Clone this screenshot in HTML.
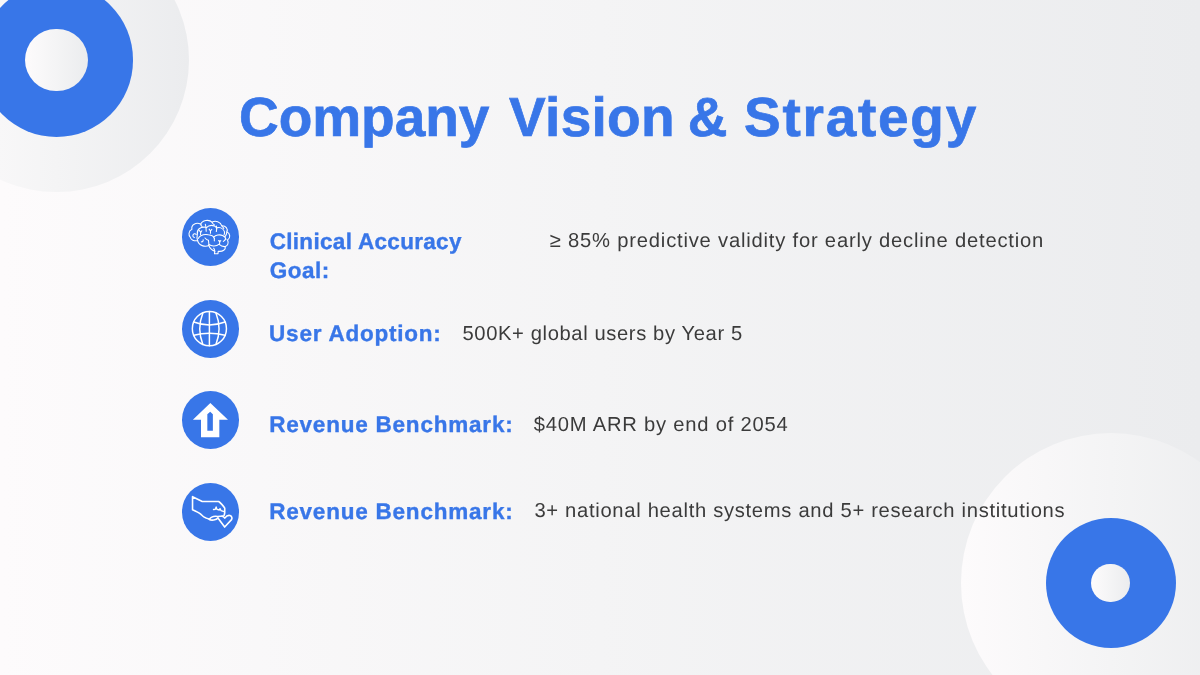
<!DOCTYPE html>
<html lang="en">
<head>
<meta charset="utf-8">
<title>Company Vision &amp; Strategy</title>
<style>
*{margin:0;padding:0;box-sizing:border-box}
html,body{width:1200px;height:675px;overflow:hidden}
body{position:relative;font-family:"Liberation Sans",sans-serif;text-rendering:geometricPrecision;background:linear-gradient(90deg,#fdfbfc 0%,#f4f4f5 50%,#ebecee 100%)}
.pale,.hole{position:absolute;border-radius:50%;background:linear-gradient(90deg,#fdfbfc 0%,#f4f4f5 50%,#ebecee 100%)}
.ring{position:absolute;border-radius:50%;background:#3876e8}
.p1{left:-75.6px;top:-72.2px;width:264.4px;height:264.4px}
.r1{left:-20.15px;top:-16.65px;width:153.5px;height:153.5px}
.h1{left:25.3px;top:28.8px;width:62.6px;height:62.6px}
.p2{left:960.7px;top:432.8px;width:300px;height:300px}
.r2{left:1045.5px;top:517.8px;width:130px;height:130px}
.h2{left:1091.4px;top:563.7px;width:38.2px;height:38.2px}
h1{font-size:55px;font-weight:700;color:#3876e8;-webkit-text-stroke:0.7px #3876e8}
h1 span{position:absolute;white-space:nowrap}
ul{list-style:none}
.ic{position:absolute;left:181.6px;width:57.6px;height:58px;border-radius:50%;background:#3876e8}
.ic svg{position:absolute;overflow:visible}
.lb{position:absolute;font-size:22.5px;font-weight:700;color:#3876e8;white-space:nowrap;-webkit-text-stroke:0.35px #3876e8}
.ds{position:absolute;font-size:20.2px;color:#3b3b3b;white-space:nowrap}
</style>
</head>
<body>
<div class="pale p1"></div>
<div class="ring r1"></div>
<div class="hole h1"></div>
<div class="pale p2"></div>
<div class="ring r2"></div>
<div class="hole h2"></div>

<h1><span style="left:239.00px;top:86px;line-height:62px;letter-spacing:-0.033px">Company</span> <span style="left:509.10px;top:86px;line-height:62px;letter-spacing:0.280px">Vision</span> <span style="left:687.70px;top:86px;line-height:62px;letter-spacing:0.000px">&amp;</span> <span style="left:744.00px;top:86px;line-height:62px;letter-spacing:1.743px">Strategy</span></h1>

<ul>
<li>
<span class="ic" style="top:208.1px">
<svg style="left:3.4px;top:6.9px" width="50" height="45" viewBox="0 0 750 675" fill="none" stroke="#fff" stroke-width="16" stroke-linecap="round" stroke-linejoin="round" aria-label="brain icon">
<path d="M104 212 C88 150 165 100 238 138 C255 80 360 60 405 108 C455 78 535 100 552 162 C612 158 648 210 628 252 C682 280 685 345 638 375 C660 420 640 462 604 474 C614 520 570 552 498 545 L495 580 L442 580 L447 545 C400 525 372 500 358 458 C300 482 205 462 190 385 C135 395 88 372 80 335 C50 312 50 234 104 212 Z"/>
<path d="M190 385 C175 350 178 320 185 290 C175 220 225 172 312 184"/>
<path d="M238 138 C236 155 244 166 258 174"/>
<path d="M305 140 C313 160 320 190 318 245"/>
<path d="M316 192 C350 160 405 150 442 166 C462 174 473 188 476 208"/>
<path d="M405 108 C410 126 426 142 446 152"/>
<path d="M472 166 C476 190 476 222 470 248"/>
<path d="M476 192 C522 180 572 200 590 245 C596 262 594 282 586 298"/>
<path d="M552 162 C566 174 576 186 582 202"/>
<path d="M362 212 L382 240 L402 216"/>
<path d="M382 240 L382 272"/>
<path d="M212 230 L236 258 L232 296"/><path d="M236 258 L252 236"/>
<path d="M168 292 C152 272 122 280 118 306 C116 322 126 334 140 338"/>
<path d="M198 352 C228 305 290 286 350 296 C400 302 432 322 440 352"/>
<path d="M440 352 L440 388"/>
<path d="M430 332 C460 300 520 290 562 306 C592 318 612 342 614 368"/>
<path d="M628 252 C626 282 616 306 600 326"/>
<path d="M245 402 C264 406 276 394 272 370"/>
<path d="M300 345 C320 368 340 378 352 380 C354 410 360 440 358 458"/>
<path d="M358 442 C400 478 472 472 512 436 C522 424 524 405 520 386"/>
<path d="M503 384 L520 400 L537 384"/>
<path d="M512 442 C542 470 580 476 604 474"/>
<path d="M575 396 C592 386 602 376 607 360"/>
<path d="M447 545 C445 525 440 510 430 498"/>
</svg>
</span>
<strong class="lb" style="left:269.70px;top:227px;line-height:29px;letter-spacing:0.312px">Clinical Accuracy<br><span style="letter-spacing:.5px">Goal:</span></strong>
<span class="ds" style="left:549.80px;top:230px;line-height:22px;letter-spacing:0.796px">≥ 85% predictive validity for early decline detection</span>
</li>
<li>
<span class="ic" style="top:299.6px">
<svg style="left:3.4px;top:6.4px" width="50" height="45" viewBox="0 0 750 675" fill="none" stroke="#fff" stroke-width="22" stroke-linecap="round" aria-label="globe icon">
<circle cx="366" cy="340" r="256"/>
<path d="M366 84 V596"/>
<path d="M268 104 Q175 340 268 576"/>
<path d="M464 104 Q557 340 464 576"/>
<path d="M132 240 Q366 330 600 240"/>
<path d="M132 440 Q366 380 600 440"/>
</svg>
</span>
<strong class="lb" style="left:269.10px;top:321px;line-height:25px;letter-spacing:0.769px">User Adoption:</strong>
<span class="ds" style="left:462.50px;top:323px;line-height:22px;letter-spacing:0.611px">500K+ global users by Year 5</span>
</li>
<li>
<span class="ic" style="top:391.1px">
<svg style="left:3.4px;top:6.9px" width="50" height="45" viewBox="0 0 750 675" aria-label="arrow up icon">
<path fill="#fff" fill-rule="evenodd" d="M380 75 L645 328 H515 V590 H240 V328 H118 Z M378 208 L335 245 V492 H418 V245 Z"/>
</svg>
</span>
<strong class="lb" style="left:269.20px;top:412px;line-height:25px;letter-spacing:0.788px">Revenue Benchmark:</strong>
<span class="ds" style="left:533.80px;top:414px;line-height:22px;letter-spacing:0.782px">$40M ARR by end of 2054</span>
</li>
<li>
<span class="ic" style="top:482.8px">
<svg style="left:3.4px;top:7.2px" width="50" height="45" viewBox="0 0 750 675" fill="none" stroke="#fff" stroke-width="24" stroke-linecap="round" stroke-linejoin="round" aria-label="hand giving heart icon">
<path d="M371 440 C335 430 305 420 283 404 C262 388 250 374 235 362 C215 346 195 332 113 296 V100 L259 172 H505 C525 182 580 245 596 272 V332 C596 350 592 365 587 380"/>
<path d="M427 292 L455 290 L467 254 L480 292 L515 300 L525 280 L540 308 L587 326" stroke-width="20"/>
<path d="M366 442 C385 408 440 390 490 397 L575 390"/>
<path d="M366 442 C390 460 470 455 494 420"/>
<path d="M494 420 L595 556 L698 445 C712 420 702 392 675 383 C645 375 615 397 597 422 C585 404 570 396 555 394"/>
</svg>
</span>
<strong class="lb" style="left:269.20px;top:499px;line-height:25px;letter-spacing:0.788px">Revenue Benchmark:</strong>
<span class="ds" style="left:534.40px;top:500px;line-height:22px;letter-spacing:0.696px">3+ national health systems and 5+ research institutions</span>
</li>
</ul>
</body>
</html>
